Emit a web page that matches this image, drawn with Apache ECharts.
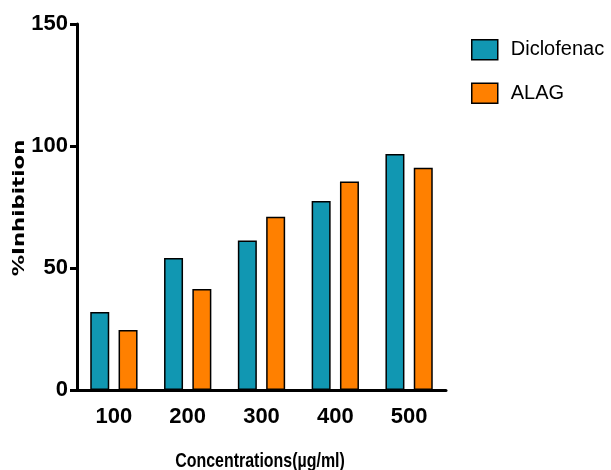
<!DOCTYPE html>
<html>
<head>
<meta charset="utf-8">
<script src="https://cdn.jsdelivr.net/npm/echarts@6/dist/echarts.min.js"></script>
<style>
  html, body { margin: 0; padding: 0; background: #fff; }
  #chart { width: 611px; height: 470px; }
</style>
</head>
<body>
<div id="chart"></div>
<script>
// Concentrations tested and % inhibition for each treatment
const concentrations = ['100', '200', '300', '400', '500'];
const diclofenac = [32.0, 54.1, 61.3, 77.5, 96.7];
const alag = [24.6, 41.4, 71.0, 85.5, 91.1];
const yTicks = [0, 50, 100, 150];

const sans = '"Liberation Sans", Arial, sans-serif';
const chart = echarts.init(document.getElementById('chart'), null, { renderer: 'canvas' });

const barStyle = (color) => ({ color: color, borderColor: '#000', borderWidth: 1.5 });

chart.setOption({
  animation: false,
  backgroundColor: '#fff',
  grid: { left: 77, right: 165, top: 24, bottom: 80, outerBoundsMode: 'none', containLabel: false },
  legend: {
    orient: 'vertical',
    left: 471,
    top: 39,
    padding: 0,
    itemWidth: 26,
    itemHeight: 20,
    itemGap: 22,
    icon: 'rect',
    itemStyle: { borderColor: '#000', borderWidth: 1.5 },
    textStyle: { fontFamily: sans, fontSize: 20, lineHeight: 20, color: '#000', padding: [0, 0, 0, 8] },
    data: ['Diclofenac', 'ALAG']
  },
  xAxis: {
    type: 'category',
    data: concentrations,
    axisLine: { lineStyle: { color: '#000', width: 3 } },
    axisTick: { alignWithLabel: true, length: 7, lineStyle: { color: '#000', width: 3 } },
    axisLabel: { fontFamily: sans, fontWeight: 'bold', fontSize: 22, color: '#000', margin: 16 }
  },
  yAxis: {
    type: 'value',
    min: yTicks[0],
    max: yTicks[yTicks.length - 1],
    interval: 50,
    axisLine: { show: true, lineStyle: { color: '#000', width: 3 } },
    axisTick: { show: true, length: 7, lineStyle: { color: '#000', width: 3 } },
    splitLine: { show: false },
    axisLabel: { fontFamily: sans, fontWeight: 'bold', fontSize: 22, color: '#000', margin: 9 }
  },
  graphic: [
    {
      // y-axis title, stretched along its length
      type: 'text',
      x: 19.5,
      y: 208,
      rotation: Math.PI / 2,
      scaleX: 1.33,
      style: {
        text: '%Inhibition',
        font: 'bold 16px "DejaVu Sans", sans-serif',
        fill: '#000',
        align: 'center',
        verticalAlign: 'middle'
      }
    },
    {
      // x-axis title, condensed
      type: 'text',
      x: 260,
      y: 461,
      scaleX: 0.76,
      style: {
        text: 'Concentrations(\u00b5g/ml)',
        font: 'bold 21px "Liberation Sans", Arial, sans-serif',
        fill: '#000',
        align: 'center',
        verticalAlign: 'middle'
      }
    }
  ],
  series: [
    {
      name: 'Diclofenac',
      type: 'bar',
      data: diclofenac,
      barWidth: 19,
      barGap: '49%',
      itemStyle: barStyle('#1197B2')
    },
    {
      name: 'ALAG',
      type: 'bar',
      data: alag,
      barWidth: 19,
      barGap: '49%',
      itemStyle: barStyle('#FF8000')
    }
  ]
});
</script>
</body>
</html>
